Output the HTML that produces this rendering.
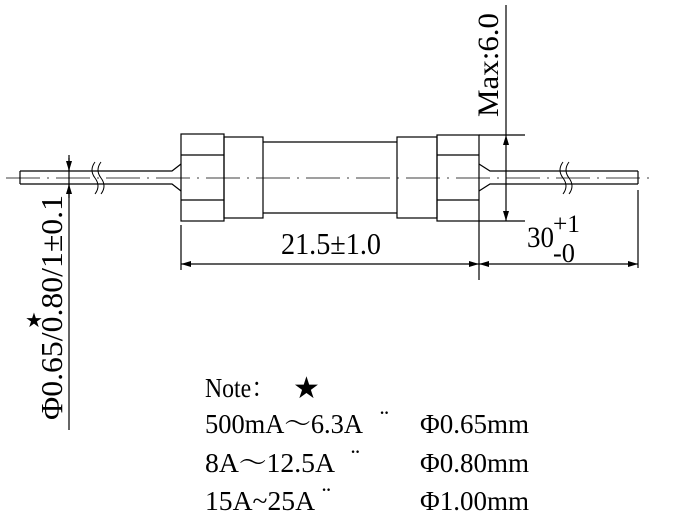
<!DOCTYPE html>
<html><head><meta charset="utf-8"><style>
html,body{margin:0;padding:0;background:#fff;}
svg{display:block;}
.s{font-family:"Liberation Serif",serif;}
.n{font-family:"Liberation Serif","Noto Serif CJK SC",serif;}
</style></head><body>
<svg width="691" height="523" viewBox="0 0 691 523" xmlns="http://www.w3.org/2000/svg">
<defs>
<marker id="a" viewBox="0 0 10 6" refX="10" refY="3" markerWidth="10" markerHeight="6" orient="auto" markerUnits="userSpaceOnUse">
<path d="M0,0 L10,3 L0,6 z" fill="#000"/></marker>
</defs>
<g stroke="#000" stroke-width="1.2" fill="none">
<line x1="6" y1="178" x2="655" y2="178" stroke-width="0.8" stroke-dasharray="34,7,2,7"/>
<path d="M20,171 H172 L181,164 M20,184 H172 L181,191 M20,171 V184"/>
<path d="M638,171 H490 L479,164 M638,184 H490 L479,191 M638,171 V184"/>
<rect x="181" y="134" width="43" height="87"/>
<line x1="181" y1="155" x2="224" y2="155"/>
<line x1="181" y1="200" x2="224" y2="200"/>
<rect x="224" y="137" width="39" height="81"/>
<line x1="263" y1="142" x2="397" y2="142"/>
<line x1="263" y1="213" x2="397" y2="213"/>
<rect x="397" y="137" width="40" height="81"/>
<rect x="437" y="135" width="42" height="86"/>
<line x1="437" y1="155" x2="479" y2="155"/>
<line x1="437" y1="200" x2="479" y2="200"/>
<path d="M95,162 q-6,8 0,16 q6,8 0,16 M101,162 q-6,8 0,16 q6,8 0,16" stroke-width="1"/>
<path d="M563,162 q-6,8 0,16 q6,8 0,16 M569,162 q-6,8 0,16 q6,8 0,16" stroke-width="1"/>
<line x1="479" y1="135" x2="525" y2="135"/>
<line x1="479" y1="221" x2="525" y2="221"/>
<line x1="506" y1="5" x2="506" y2="135"/>
<line x1="506" y1="178" x2="506" y2="135" marker-end="url(#a)"/>
<line x1="506" y1="178" x2="506" y2="221" marker-end="url(#a)"/>
<line x1="181" y1="225" x2="181" y2="270"/>
<line x1="479" y1="221" x2="479" y2="280"/>
<line x1="638" y1="190" x2="638" y2="268"/>
<line x1="330" y1="264" x2="181" y2="264" marker-end="url(#a)"/>
<line x1="330" y1="264" x2="479" y2="264" marker-end="url(#a)"/>
<line x1="560" y1="264" x2="479" y2="264" marker-end="url(#a)"/>
<line x1="560" y1="264" x2="638" y2="264" marker-end="url(#a)"/>
<line x1="69" y1="155" x2="69" y2="430"/>
<line x1="69" y1="158" x2="69" y2="171" marker-end="url(#a)"/>
<line x1="69" y1="198" x2="69" y2="184" marker-end="url(#a)"/>
</g>
<g class="s" fill="#000">
<text x="281" y="254" font-size="31" textLength="100" lengthAdjust="spacingAndGlyphs">21.5±1.0</text>
<text x="527" y="247" font-size="30" textLength="27" lengthAdjust="spacingAndGlyphs">30</text>
<text x="553" y="232" font-size="25" textLength="27" lengthAdjust="spacingAndGlyphs">+1</text>
<text x="553" y="262" font-size="27" textLength="22" lengthAdjust="spacingAndGlyphs">-0</text>
<text transform="translate(498,117) rotate(-90)" font-size="30" textLength="104" lengthAdjust="spacingAndGlyphs">Max:6.0</text>
<text transform="translate(62,420) rotate(-90)" font-size="31" textLength="225" lengthAdjust="spacingAndGlyphs">Φ0.65/0.80/1±0.1</text>
<text x="25" y="327" font-size="20" font-family="DejaVu Sans">★</text>
</g>
<g class="n" fill="#000" font-size="27">
<text x="205" y="397" textLength="70" lengthAdjust="spacingAndGlyphs">Note：</text>
<text x="293" y="398" font-size="30" font-family="DejaVu Sans">★</text>
<text x="205" y="433" textLength="158" lengthAdjust="spacingAndGlyphs">500mA～6.3A</text>
<text x="380" y="428" font-size="26">¨</text>
<text x="420" y="433" textLength="109" lengthAdjust="spacingAndGlyphs">Φ0.65mm</text>
<text x="205" y="472" textLength="130" lengthAdjust="spacingAndGlyphs">8A～12.5A</text>
<text x="351" y="467" font-size="26">¨</text>
<text x="420" y="472" textLength="109" lengthAdjust="spacingAndGlyphs">Φ0.80mm</text>
<text x="205" y="510" textLength="110" lengthAdjust="spacingAndGlyphs">15A~25A</text>
<text x="322" y="505" font-size="26">¨</text>
<text x="420" y="510" textLength="109" lengthAdjust="spacingAndGlyphs">Φ1.00mm</text>
</g>
</svg>
</body></html>
